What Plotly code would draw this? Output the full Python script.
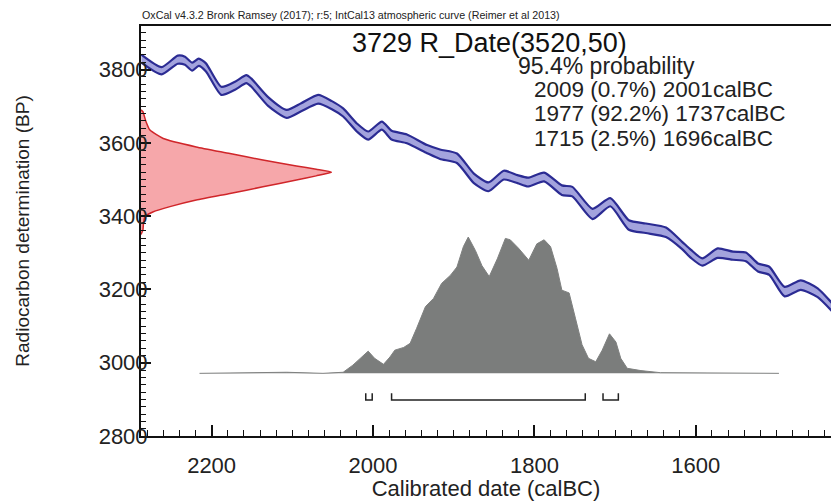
import plotly.graph_objects as go

# ---------------- data ----------------
# IntCal13 calibration curve (calBC, BP centre, 1-sigma)
curve_year = [2287, 2262, 2242, 2233, 2224, 2216, 2207, 2188, 2171, 2157, 2151, 2130,
              2107, 2089, 2068, 2051, 2037, 2020, 2006, 1989, 1977, 1958, 1933, 1917,
              1896, 1875, 1857, 1838, 1821, 1808, 1788, 1766, 1753, 1728, 1706, 1683,
              1662, 1637, 1617, 1606, 1592, 1573, 1554, 1538, 1523, 1509, 1490, 1470,
              1449, 1431]
curve_bp = [3830, 3797, 3827, 3824, 3808, 3820, 3806, 3742, 3756, 3774, 3765, 3713,
            3679, 3697, 3719, 3703, 3683, 3642, 3620, 3647, 3621, 3611, 3583, 3569,
            3558, 3503, 3480, 3512, 3501, 3493, 3507, 3471, 3467, 3406, 3438, 3376,
            3367, 3356, 3320, 3297, 3275, 3299, 3292, 3289, 3260, 3251, 3194, 3212,
            3191, 3151]
curve_sigma = [11, 10, 11, 11, 11, 10, 11, 11, 11, 11, 11, 12,
               11, 11, 12, 11, 11, 11, 11, 11, 12, 12, 11, 13,
               13, 13, 12, 12, 11, 12, 12, 13, 13, 14, 11, 13,
               13, 13, 10, 11, 10, 13, 11, 12, 11, 11, 13, 13,
               12, 11]

# Radiocarbon measurement R_Date(3520,50): BP and relative density
red_bp = [3690, 3685, 3660, 3635, 3612, 3589, 3571, 3553, 3537, 3528, 3520, 3510,
          3499, 3480, 3462, 3444, 3426, 3412, 3399, 3380, 3362, 3350]
red_p = [0.0, 0.01, 0.025, 0.047, 0.117, 0.29, 0.467, 0.64, 0.816, 0.92, 1.0, 0.92,
         0.816, 0.64, 0.467, 0.29, 0.152, 0.065, 0.021, 0.013, 0.01, 0.0]

# Calibrated probability distribution (calBC, relative probability)
grey_year = [2215, 2144, 2107, 2062, 2037, 2025, 2014, 2006, 1998, 1987, 1979, 1973,
             1962, 1954, 1946, 1935, 1925, 1915, 1904, 1896, 1888, 1882, 1873, 1865,
             1856, 1846, 1836, 1830, 1820, 1807, 1797, 1788, 1780, 1772, 1766, 1757,
             1749, 1741, 1733, 1724, 1716, 1707, 1699, 1693, 1685, 1668, 1644, 1497]
grey_p = [0, 0.004, 0.008, 0, 0.008, 0.06, 0.12, 0.163, 0.11, 0.066, 0.12, 0.17,
          0.19, 0.22, 0.33, 0.49, 0.55, 0.66, 0.72, 0.78, 0.93, 1.0, 0.90, 0.79,
          0.71, 0.84, 0.99, 0.98, 0.92, 0.83, 0.95, 0.98, 0.93, 0.77, 0.61, 0.59,
          0.40, 0.21, 0.11, 0.085, 0.17, 0.29, 0.23, 0.11, 0.037, 0.02, 0.005, 0]

# 95.4% ranges (calBC)
range_start = [2009, 1977, 1715]
range_end = [2001, 1737, 1696]

header = "OxCal v4.3.2 Bronk Ramsey (2017); r:5; IntCal13 atmospheric curve (Reimer et al 2013)"
title = "3729 R_Date(3520,50)"
prob_lines = ["95.4% probability",
              "2009 (0.7%) 2001calBC",
              "1977 (92.2%) 1737calBC",
              "1715 (2.5%) 1696calBC"]

# ---------------- layout constants ----------------
X_MAX, X_MIN = 2287.5, 1432.5
Y_MIN, Y_MAX = 2800, 3919
RED_W = 236          # horizontal extent of the measurement density (years)
GREY_BASE = 2971     # baseline of calibrated distribution (BP units)
GREY_H = 372         # height of calibrated distribution (BP units)
BR_TOP, BR_BOT = 2917, 2898
FONT = "Liberation Sans, Arial, sans-serif"

fig = go.Figure()

# calibration band
upper = [c + s for c, s in zip(curve_bp, curve_sigma)]
lower = [c - s for c, s in zip(curve_bp, curve_sigma)]
fig.add_trace(go.Scatter(x=curve_year, y=lower, mode="lines",
                         line=dict(color="#2b2b93", width=2.2, shape="spline", smoothing=0.6),
                         hoverinfo="skip", showlegend=False))
fig.add_trace(go.Scatter(x=curve_year, y=upper, mode="lines", fill="tonexty",
                         fillcolor="#a3a3dd",
                         line=dict(color="#2b2b93", width=2.2, shape="spline", smoothing=0.6),
                         hoverinfo="skip", showlegend=False))

# measurement density along the y axis
red_x = [X_MAX - p * RED_W for p in red_p]
fig.add_trace(go.Scatter(x=[X_MAX] + red_x + [X_MAX], y=[red_bp[0]] + red_bp + [red_bp[-1]],
                         mode="lines", fill="toself", fillcolor="#f6a7aa",
                         line=dict(color="#d0262a", width=1.5, shape="spline", smoothing=0.5),
                         hoverinfo="skip", showlegend=False))

# calibrated distribution
grey_y = [GREY_BASE + p * GREY_H for p in grey_p]
fig.add_trace(go.Scatter(x=grey_year, y=grey_y, mode="lines", fill="toself",
                         fillcolor="#7b7d7c", line=dict(color="#7f8180", width=1),
                         hoverinfo="skip", showlegend=False))

# range brackets
bx, by = [], []
for a, b in zip(range_start, range_end):
    bx += [a, a, b, b, None]
    by += [BR_TOP, BR_BOT, BR_BOT, BR_TOP, None]
fig.add_trace(go.Scatter(x=bx, y=by, mode="lines", line=dict(color="#222222", width=1.5),
                         hoverinfo="skip", showlegend=False))

annots = [
    dict(text=header, x=0.0, y=1.0268, xanchor="left", yanchor="middle",
         font=dict(size=10.7, color="#222222")),
    dict(text=title, x=0.505, y=0.958, xanchor="center", yanchor="middle",
         font=dict(size=27, color="#111111")),
    dict(text=prob_lines[0], x=0.5454, y=0.903, xanchor="left", yanchor="middle",
         font=dict(size=23, color="#222222")),
]
for i, t in enumerate(prob_lines[1:]):
    annots.append(dict(text=t, x=0.5674, y=0.8456 - i * 0.0602, xanchor="left",
                       yanchor="middle", font=dict(size=22.5, color="#222222")))
for a in annots:
    a.update(xref="paper", yref="paper", showarrow=False, borderpad=0)

fig.update_layout(
    width=831, height=501,
    margin=dict(l=141, r=0, t=26, b=65, autoexpand=False),
    paper_bgcolor="white", plot_bgcolor="white",
    font=dict(family=FONT, color="#222222"),
    annotations=annots,
    xaxis=dict(range=[X_MAX, X_MIN], tick0=0, dtick=200, ticks="inside", ticklen=11,
               tickwidth=2, tickcolor="#111111", showline=True, linewidth=2,
               linecolor="#111111", mirror=True, showgrid=False, zeroline=False,
               automargin=False,
               tickfont=dict(size=22, color="#222222"), ticklabelstandoff=9,
               minor=dict(tick0=0, dtick=20, ticks="inside", ticklen=6, tickwidth=1.3,
                          tickcolor="#111111", showgrid=False),
               title=dict(text="Calibrated date (calBC)", font=dict(size=22, color="#222222"),
                          standoff=14)),
    yaxis=dict(range=[Y_MIN, Y_MAX], tick0=2800, dtick=200, ticks="inside", ticklen=10,
               tickwidth=2, tickcolor="#111111", showline=True, linewidth=2,
               linecolor="#111111", showgrid=False, zeroline=False,
               automargin=False,
               tickfont=dict(size=22, color="#222222"), ticklabelstandoff=-13,
               minor=dict(tick0=2800, dtick=20, ticks="inside", ticklen=5, tickwidth=1.3,
                          tickcolor="#111111", showgrid=False),
               title=dict(text="Radiocarbon determination (BP)",
                          font=dict(size=19, color="#222222"), standoff=64)),
)

fig.write_html("out.html", config={"displayModeBar": False},
               post_script="document.body.style.margin='0';document.body.style.overflow='hidden';")
